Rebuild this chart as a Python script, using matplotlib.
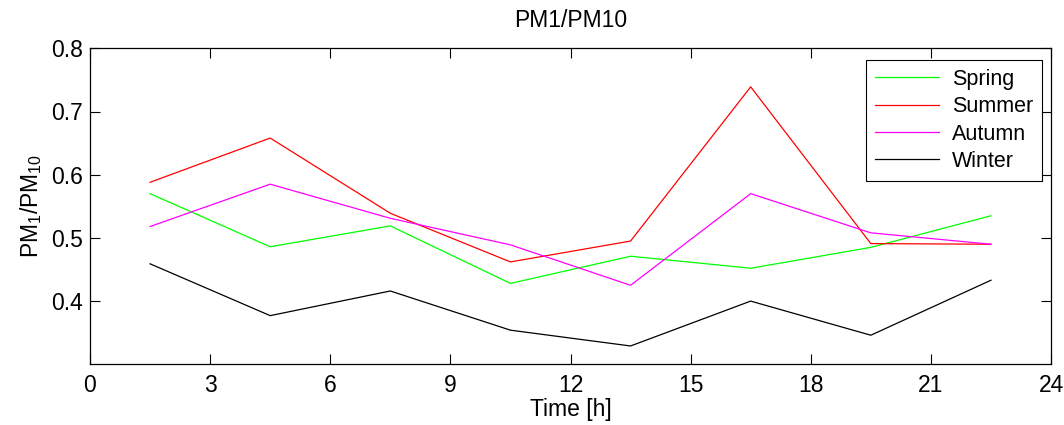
import matplotlib
matplotlib.use("Agg")
import matplotlib.pyplot as plt

plt.rcParams['font.family'] = ['Liberation Sans', 'DejaVu Sans']
plt.rcParams['mathtext.default'] = 'regular'

hours = [1.5, 4.5, 7.5, 10.5, 13.5, 16.5, 19.5, 22.5]
spring = [0.570, 0.486, 0.519, 0.428, 0.471, 0.452, 0.485, 0.535]
summer = [0.588, 0.658, 0.539, 0.462, 0.495, 0.739, 0.491, 0.490]
autumn = [0.518, 0.585, 0.531, 0.489, 0.425, 0.570, 0.508, 0.490]
winter = [0.459, 0.377, 0.416, 0.354, 0.329, 0.400, 0.346, 0.433]
series_names = ['Spring', 'Summer', 'Autumn', 'Winter']
x_ticks = [0, 3, 6, 9, 12, 15, 18, 21, 24]
y_ticks = [0.4, 0.5, 0.6, 0.7, 0.8]

colors = ['#00ff00', '#ff0000', '#ff00ff', '#000000']

fig = plt.figure(figsize=(10.64, 4.25), dpi=100)
ax = fig.add_axes([90/1064, 1 - 364.3/425, (1051-90)/1064, (364.3-48.3)/425])

for vals, name, c in zip([spring, summer, autumn, winter], series_names, colors):
    ax.plot(hours, vals, color=c, lw=0.9, label=name)

ax.set_xlim(0, 24)
ax.set_ylim(0.3, 0.8)
ax.set_xticks(x_ticks)
ax.set_yticks(y_ticks)
ax.set_yticklabels([f"{v:.1f}" for v in y_ticks])
ax.tick_params(direction='in', length=7, width=0.8, top=True, right=True,
               labelsize=16.5)
ax.tick_params(axis='y', pad=5)
ax.tick_params(axis='x', pad=7)
for s in ax.spines.values():
    s.set_linewidth(0.9)

ax.set_title('PM1/PM10', fontsize=16.5, pad=15)
ax.set_xlabel('Time [h]', fontsize=16.5, labelpad=1)
ax.set_ylabel('PM$_1$/PM$_{10}$', fontsize=16.5, labelpad=5)

leg = ax.legend(loc='upper right', bbox_to_anchor=((1042-90)/961, (364.3-60)/316),
                borderaxespad=0, fontsize=15.5, fancybox=False, framealpha=1,
                edgecolor='black', handlelength=3.0, labelspacing=0.3,
                borderpad=0.4, handletextpad=0.6)
leg.get_frame().set_linewidth(0.8)

fig.savefig('out.png', dpi=100, facecolor='white')
